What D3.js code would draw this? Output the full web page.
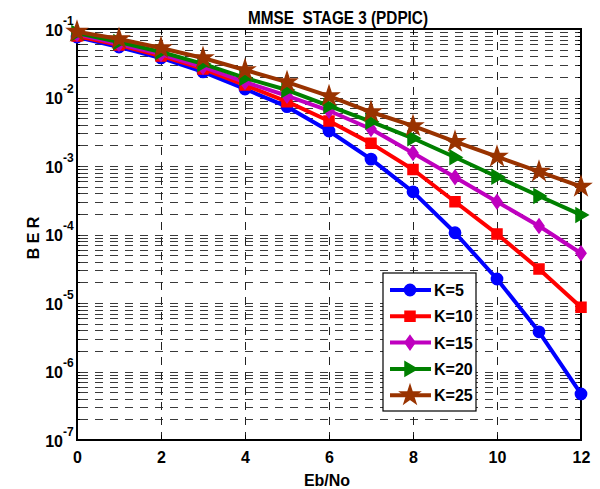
<!DOCTYPE html>
<html><head><meta charset="utf-8">
<script src="https://cdn.jsdelivr.net/npm/d3@7"></script>
<style>
body{margin:0;background:#fff;}
svg{display:block;font-family:"Liberation Sans",Arial,sans-serif;font-weight:bold;}
</style></head>
<body><svg id="c" width="600" height="489"></svg>
<script>
const ebno = [0,1,2,3,4,5,6,7,8,9,10,11,12];
const seriesNames = ["K=5","K=10","K=15","K=20","K=25"];
const berK5  = [0.0764,0.0546,0.0378,0.0236,0.0133,0.00734,0.00324,0.00126,4.2e-4,1.06e-4,2.24e-5,3.8e-6,4.7e-7];
const berK10 = [0.079,0.0583,0.0404,0.0261,0.0152,0.00869,0.00454,0.00214,8.9e-4,3.01e-4,1.02e-4,3.13e-5,8.65e-6];
const berK15 = [0.0845,0.0604,0.0432,0.0279,0.0168,0.0106,0.00641,0.00347,0.00155,6.84e-4,3.01e-4,1.33e-4,5.32e-5];
const berK20 = [0.0875,0.0646,0.0462,0.0309,0.0193,0.01286,0.00752,0.00444,0.00254,0.00134,6.98e-4,3.65e-4,1.93e-4];
const berK25 = [0.0913,0.0715,0.0528,0.0377,0.0252,0.0168,0.0105,0.00614,0.00384,0.00226,0.00137,8.26e-4,4.99e-4];
const xTicks = [0,2,4,6,8,10,12];
const yExponents = [-1,-2,-3,-4,-5,-6,-7];
const colors = ["#0000ff","#ff0000","#bf00bf","#008000","#993300"];
const markers = ["circle","square","diamond","triangle","star"];
const allSeries = [berK5,berK10,berK15,berK20,berK25];

const svg = d3.select("#c");
const L=77, R=581, T=29, B=440;
const x = d3.scaleLinear().domain([0,12]).range([L,R]);
const y = d3.scaleLog().domain([1e-7,1e-1]).range([B,T]);

// grid
const minorVals = [];
for (let e=-7;e<-1;e++) for (let m=1;m<10;m++) minorVals.push(m*Math.pow(10,e));
minorVals.push(1e-1);
const gy = svg.append("g").attr("transform",`translate(${L},0)`)
  .call(d3.axisLeft(y).tickValues(minorVals).tickSize(-(R-L)).tickFormat(""));
gy.select(".domain").remove();
gy.selectAll("line").attr("stroke","#3a3a3a").attr("stroke-dasharray","8,7").attr("stroke-dashoffset",-3).attr("shape-rendering","crispEdges");
const gx = svg.append("g").attr("transform",`translate(0,${B})`)
  .call(d3.axisBottom(x).tickValues(xTicks.slice(1,-1)).tickSize(-(B-T)).tickFormat(""));
gx.select(".domain").remove();
gx.selectAll("line").attr("stroke","#222").attr("stroke-dasharray","8,7").attr("shape-rendering","crispEdges");

// inward ticks
[[L,1],[R,-1]].forEach(([px,dir])=>{
  svg.append("g").attr("transform",`translate(${px},0)`)
    .call(d3.axisLeft(y).tickValues(minorVals).tickSize(-dir*3).tickFormat(""))
    .call(g=>g.select(".domain").remove())
    .selectAll("line").attr("stroke","#000").attr("shape-rendering","crispEdges");
});
[[B,1],[T,-1]].forEach(([py,dir])=>{
  svg.append("g").attr("transform",`translate(0,${py})`)
    .call(d3.axisBottom(x).tickValues(xTicks).tickSize(-dir*5).tickFormat(""))
    .call(g=>g.select(".domain").remove())
    .selectAll("line").attr("stroke","#000").attr("shape-rendering","crispEdges");
});

// box
svg.append("rect").attr("x",L).attr("y",T).attr("width",R-L).attr("height",B-T)
  .attr("fill","none").attr("stroke","#000").attr("stroke-width",2);

// x axis labels
const xa = svg.append("g").attr("transform",`translate(0,${B})`)
  .call(d3.axisBottom(x).tickValues(xTicks).tickSize(0).tickPadding(12).tickFormat(d3.format("d")));
xa.select(".domain").remove();
xa.selectAll("text").attr("font-size",16).attr("font-weight","bold").attr("fill","#000")
  .attr("font-family","Liberation Sans, Arial, sans-serif");

// y axis labels
const ya = svg.append("g").attr("transform",`translate(${L},0)`)
  .call(d3.axisLeft(y).tickValues(yExponents.map(e=>Math.pow(10,e))).tickSize(0).tickFormat(()=>""));
ya.select(".domain").remove();
ya.selectAll(".tick").each(function(d){
  const g = d3.select(this);
  g.append("text").attr("x",-14).attr("y",6).attr("text-anchor","end")
    .attr("font-size",16).attr("fill","#000").text("10");
  g.append("text").attr("x",-14).attr("y",-5).attr("text-anchor","start")
    .attr("font-size",12).attr("fill","#000").text(String(Math.round(Math.log10(d))));
});

// titles
svg.append("text").attr("x",338).attr("y",24).attr("text-anchor","middle")
  .attr("font-size",18).attr("textLength",180).attr("lengthAdjust","spacingAndGlyphs")
  .style("white-space","pre").text("MMSE  STAGE 3 (PDPIC)");
svg.append("text").attr("x",327).attr("y",486).attr("text-anchor","middle")
  .attr("font-size",16).text("Eb/No");
svg.append("text").attr("transform","translate(39,238) rotate(-90)").attr("text-anchor","middle")
  .attr("font-size",16).style("white-space","pre").text("B E R");

// marker paths
function markerPath(type){
  switch(type){
    case "circle": return d3.symbol(d3.symbolCircle,100)();
    case "square": return "M-5,-5L5,-5L5,5L-5,5Z";
    case "diamond": return "M0,-7L5,0L0,7L-5,0Z";
    case "triangle": return "M7,0L-5,-7L-5,7Z";
    case "star": {
      const Ro=10, Ri=Ro*0.382; let p="";
      for(let i=0;i<10;i++){const r=i%2?Ri:Ro; const a=-Math.PI/2+i*Math.PI/5;
        p+=(i?"L":"M")+(r*Math.cos(a)).toFixed(2)+","+(r*Math.sin(a)).toFixed(2);}
      return p+"Z";
    }
  }
}

const line = d3.line().x((d,i)=>x(ebno[i])).y(d=>y(d));
allSeries.forEach((s,k)=>{
  const g = svg.append("g");
  g.append("path").attr("d",line(s)).attr("fill","none").attr("stroke",colors[k])
    .attr("stroke-width",4).attr("stroke-linejoin","round");
  g.selectAll("path.m").data(s).enter().append("path").attr("class","m")
    .attr("transform",(d,i)=>`translate(${x(ebno[i])},${y(d)})`)
    .attr("d",markerPath(markers[k])).attr("fill",colors[k]).attr("stroke",colors[k]).attr("stroke-width",1.5);
});

// legend
const lg = svg.append("g");
lg.append("rect").attr("x",383).attr("y",273).attr("width",93).attr("height",138)
  .attr("fill","#fff").attr("stroke","#000").attr("stroke-width",1.2);
seriesNames.forEach((n,k)=>{
  const yy = 290 + k*26.3;
  lg.append("line").attr("x1",390).attr("x2",431).attr("y1",yy).attr("y2",yy)
    .attr("stroke",colors[k]).attr("stroke-width",4);
  lg.append("path").attr("transform",`translate(410,${yy})`).attr("d",markerPath(markers[k]))
    .attr("fill",colors[k]).attr("stroke",colors[k]).attr("stroke-width",1.5);
  lg.append("text").attr("x",434).attr("y",yy+6).attr("font-size",16).text(n);
});
</script></body></html>
